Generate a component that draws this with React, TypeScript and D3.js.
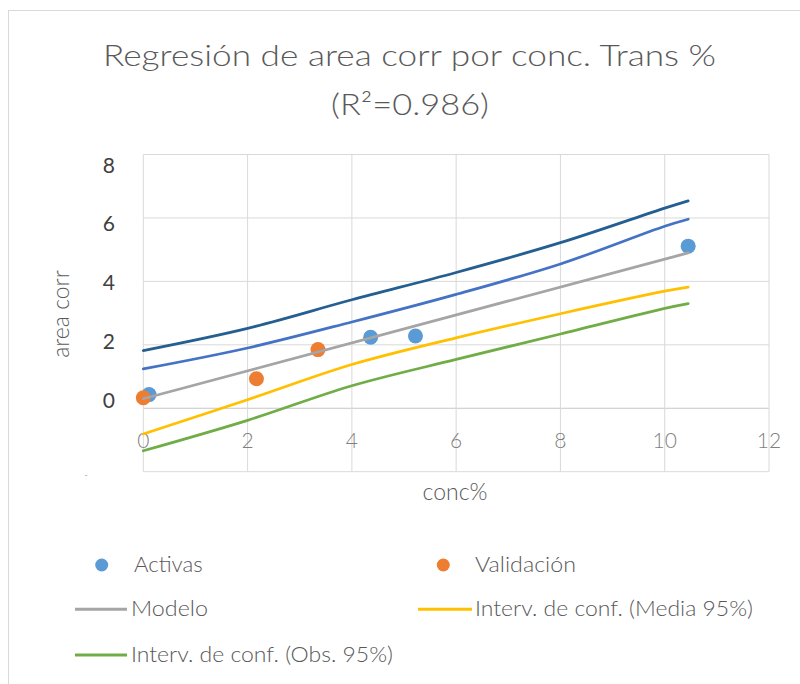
import React from 'react';
import * as d3 from 'd3';

const xTicks = [0, 2, 4, 6, 8, 10, 12];
const yTicks = [0, 2, 4, 6, 8];
const gridY = [-2, 0, 2, 4, 6, 8];

const activasX = [0.11, 4.36, 5.22, 10.45];
const activasY = [0.43, 2.24, 2.28, 5.11];
const validX = [0, 2.17, 3.35];
const validY = [0.33, 0.93, 1.85];

const modeloX = [0, 10.45];
const modelo = [0.3, 4.9];

const bandX = [0, 2, 4, 6, 8, 10, 10.45];
const mediaSup = [1.24, 1.9, 2.72, 3.59, 4.55, 5.74, 5.96];
const mediaInf = [-0.81, 0.27, 1.38, 2.22, 2.98, 3.69, 3.82];
const obsSup = [1.82, 2.52, 3.42, 4.28, 5.22, 6.31, 6.54];
const obsInf = [-1.34, -0.38, 0.71, 1.54, 2.34, 3.15, 3.3];

const FONT = 'Lato, "Open Sans", sans-serif';

export default function App() {
  const x = d3.scaleLinear().domain([0, 12]).range([143.3, 769]);
  const y = d3.scaleLinear().domain([-2, 8]).range([471.7, 154.5]);
  const yLabel = d3.scaleLinear().domain([0, 8]).range([400, 165]);
  const line = d3
    .line<[number, number]>()
    .curve(d3.curveCatmullRom.alpha(0.5))
    .x((d) => x(d[0]))
    .y((d) => y(d[1]));
  const mk = (xs: number[], vals: number[]) =>
    line(xs.map((bx, i) => [bx, vals[i]] as [number, number])) || '';

  const series = [
    { xs: bandX, vals: obsSup, color: '#255e91' },
    { xs: bandX, vals: mediaSup, color: '#4472c4' },
    { xs: modeloX, vals: modelo, color: '#a5a5a5' },
    { xs: bandX, vals: mediaInf, color: '#ffc000' },
    { xs: bandX, vals: obsInf, color: '#70ad47' },
  ];

  return (
    <svg
      width={800}
      height={684}
      style={{ position: 'absolute', left: 0, top: 0, background: '#fff' }}
      fontFamily={FONT}
      fontWeight={300}
    >
      <rect x={8.5} y={10.5} width={820} height={700} fill="#fff" stroke="#d9d9d9" />
      <text x={409.5} y={66} textAnchor="middle" fontSize={29} fill="#595959" textLength={613} lengthAdjust="spacingAndGlyphs">
        Regresión de area corr por conc. Trans %
      </text>
      <text x={410} y={115} textAnchor="middle" fontSize={29} fill="#595959" textLength={158} lengthAdjust="spacingAndGlyphs">
        (R²=0.986)
      </text>

      {gridY.map((g) => (
        <line key={'gy' + g} x1={x(0)} x2={x(12)} y1={y(g)} y2={y(g)} stroke={g === 0 ? '#c6c6c6' : '#d9d9d9'} strokeWidth={1} />
      ))}
      {xTicks.map((t) => (
        <line key={'gx' + t} x1={x(t)} x2={x(t)} y1={y(-2)} y2={y(8)} stroke="#d9d9d9" strokeWidth={1} />
      ))}

      {yTicks.map((t) => (
        <text key={'yl' + t} x={115} y={yLabel(t)} dy="0.36em" textAnchor="end" fontSize={21} fontWeight={400} fill="#404040">
          {t}
        </text>
      ))}
      <text x={86} y={478} textAnchor="middle" fontSize={10} fill="#595959">-</text>
      {xTicks.map((t) => (
        <text key={'xl' + t} x={x(t)} y={447.5} textAnchor="middle" fontSize={21} fill="#7f7f7f">
          {t}
        </text>
      ))}

      <text transform="translate(69,314) rotate(-90)" textAnchor="middle" fontSize={23} fill="#595959">
        area corr
      </text>
      <text x={455} y={500} textAnchor="middle" fontSize={23} fill="#595959">
        conc%
      </text>

      {activasX.map((v, i) => (
        <circle key={'a' + i} cx={x(v)} cy={y(activasY[i])} r={7.5} fill="#5b9bd5" />
      ))}
      {validX.map((v, i) => (
        <circle key={'v' + i} cx={x(v)} cy={y(validY[i])} r={7.5} fill="#ed7d31" />
      ))}

      {series.map((s, i) => (
        <path key={'s' + i} d={mk(s.xs, s.vals)} fill="none" stroke={s.color} strokeWidth={2.75} strokeLinejoin="round" strokeLinecap="round" />
      ))}

      <circle cx={101.7} cy={565} r={6.5} fill="#5b9bd5" />
      <text x={134} y={571.7} fontSize={21} fill="#595959" textLength={68.7} lengthAdjust="spacingAndGlyphs">Activas</text>
      <circle cx={443.3} cy={565} r={6.5} fill="#ed7d31" />
      <text x={475} y={571.7} fontSize={21} fill="#595959" textLength={101} lengthAdjust="spacingAndGlyphs">Validación</text>

      <line x1={75} x2={127} y1={609.3} y2={609.3} stroke="#a5a5a5" strokeWidth={3} />
      <text x={131} y={616} fontSize={21} fill="#595959" textLength={77} lengthAdjust="spacingAndGlyphs">Modelo</text>
      <line x1={418} x2={472} y1={609.3} y2={609.3} stroke="#ffc000" strokeWidth={3} />
      <text x={475} y={616} fontSize={21} fill="#595959" textLength={278} lengthAdjust="spacingAndGlyphs">Interv. de conf. (Media 95%)</text>

      <line x1={75} x2={127} y1={655} y2={655} stroke="#70ad47" strokeWidth={3} />
      <text x={131} y={661.7} fontSize={21} fill="#595959" textLength={262} lengthAdjust="spacingAndGlyphs">Interv. de conf. (Obs. 95%)</text>
    </svg>
  );
}
